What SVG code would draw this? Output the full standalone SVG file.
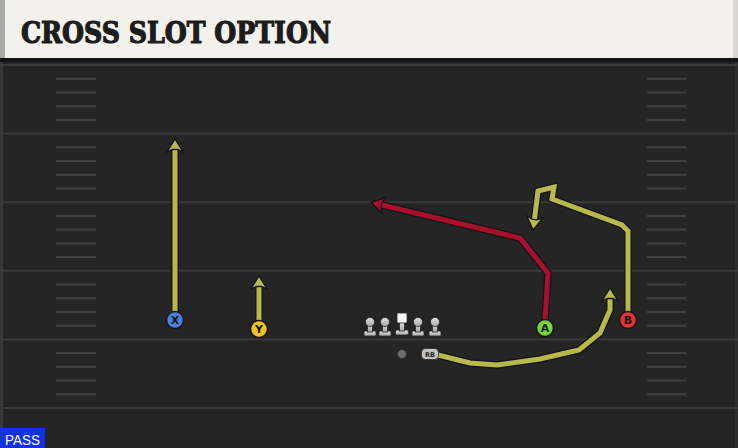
<svg xmlns="http://www.w3.org/2000/svg" xmlns:xlink="http://www.w3.org/1999/xlink" width="738" height="448" viewBox="0 0 738 448">
<style>
.yl{stroke:#3a3a3a;stroke-width:2}
.hs{stroke:#404040;stroke-width:2}
.ol{fill:none;stroke:#141414;stroke-width:7.5;stroke-linejoin:miter}
.ry{fill:none;stroke:#b9b94b;stroke-width:5;stroke-linejoin:miter}
.rr{fill:none;stroke:#a8102e;stroke-width:5;stroke-linejoin:miter}
.pc{stroke:#161616;stroke-width:1.5}
.pl{font-family:"DejaVu Sans","Liberation Sans",sans-serif;font-weight:bold;font-size:11px;fill:#151515;text-anchor:middle}
.lm{fill:url(#lg);stroke:#2a2a2a;stroke-width:0.8}
</style>
<defs>
<linearGradient id="lg" x1="0" y1="0" x2="0" y2="1">
<stop offset="0" stop-color="#e4e4e4"/>
<stop offset="1" stop-color="#a6a6a6"/>
</linearGradient>
<marker id="aY" markerUnits="userSpaceOnUse" viewBox="-9 -10 18 20" markerWidth="18" markerHeight="20" refX="0" refY="0" orient="auto">
<path d="M7,0 L-6,-8 L-3.5,-2.5 L-3.5,2.5 L-6,8 Z" fill="#b9b94b" stroke="#141414" stroke-width="1.3" stroke-linejoin="miter"/>
</marker>
<marker id="aR" markerUnits="userSpaceOnUse" viewBox="-9 -10 18 20" markerWidth="18" markerHeight="20" refX="0" refY="0" orient="auto">
<path d="M7,0 L-6,-8 L-3.5,-2.5 L-3.5,2.5 L-6,8 Z" fill="#a8102e" stroke="#141414" stroke-width="1.3" stroke-linejoin="miter"/>
</marker>
<g id="olm">
<rect x="-6" y="331" width="12" height="5" rx="1.5" class="lm"/>
<rect x="-2.5" y="322" width="5" height="10" class="lm"/>
<circle cx="0" cy="322" r="4.5" class="lm"/>
</g>
</defs>

<!-- field -->
<rect x="0" y="0" width="738" height="448" fill="#252525"/>
<rect x="0" y="58" width="738" height="4" fill="#141414"/>
<rect x="0" y="62" width="3" height="386" fill="#383838"/>
<rect x="735" y="62" width="3" height="386" fill="#2e2e2e"/>
<g id="yardlines">
<line class="yl" x1="0" y1="65" x2="738" y2="65"/>
<line class="yl" x1="0" y1="133.6" x2="738" y2="133.6"/>
<line class="yl" x1="0" y1="202.2" x2="738" y2="202.2"/>
<line class="yl" x1="0" y1="270.8" x2="738" y2="270.8"/>
<line class="yl" x1="0" y1="339.4" x2="738" y2="339.4"/>
<line class="yl" x1="0" y1="408" x2="738" y2="408"/>
</g>
<g id="hashes">
<path class="hs" d="M56,78.7H96M56,92.4H96M56,106.2H96M56,119.9H96M56,147.3H96M56,161H96M56,174.8H96M56,188.5H96M56,215.9H96M56,229.6H96M56,243.4H96M56,257.1H96M56,284.5H96M56,298.2H96M56,312H96M56,325.7H96M56,353.1H96M56,366.8H96M56,380.6H96M56,394.3H96"/>
<path class="hs" d="M647,78.7H686M647,92.4H686M647,106.2H686M647,119.9H686M647,147.3H686M647,161H686M647,174.8H686M647,188.5H686M647,215.9H686M647,229.6H686M647,243.4H686M647,257.1H686M647,284.5H686M647,298.2H686M647,312H686M647,325.7H686M647,353.1H686M647,366.8H686M647,380.6H686M647,394.3H686"/>
</g>

<!-- header -->
<g id="header">
<rect x="0" y="0" width="738" height="58" fill="#f3f1eb"/>
<rect x="0" y="0" width="5" height="58" fill="#a9a9a6"/>
<polygon points="733,0 738,0 738,58 733,58" fill="#d8d6d0"/>
<text x="21" y="43" font-family="'DejaVu Serif','Liberation Serif',serif" font-weight="900" font-size="29" fill="#1c1c1c" stroke="#1c1c1c" stroke-width="1.2" textLength="310" lengthAdjust="spacingAndGlyphs">CROSS SLOT OPTION</text>
</g>

<!-- routes -->
<g id="connectors">
<path class="ol" d="M175,312 L175,146"/>
<path class="ry" d="M175,312 L175,146" marker-end="url(#aY)"/>
<path class="ol" d="M259,321 L259,283"/>
<path class="ry" d="M259,321 L259,283" marker-end="url(#aY)"/>
<path class="ol" d="M545,320 L548,273 L520,238 L378,204"/>
<path class="rr" d="M545,320 L548,273 L520,238 L378,204" marker-end="url(#aR)"/>
<path class="ol" d="M628,312 L628,231 L622,225 L552,199 L554,187 L538,191 L534,223"/>
<path class="ry" d="M628,312 L628,231 L622,225 L552,199 L554,187 L538,191 L534,223" marker-end="url(#aY)"/>
<path class="ol" d="M438,355 L470,363 L497,365 L540,359 L579,350 L600,333 L610,310 L610,295"/>
<path class="ry" d="M438,355 L470,363 L497,365 L540,359 L579,350 L600,333 L610,310 L610,295" marker-end="url(#aY)"/>
</g>

<!-- players -->
<g id="X"><circle class="pc" cx="175" cy="320" r="8.5" fill="#4d7fe0"/><text class="pl" x="175" y="324">X</text></g>
<g id="Y"><circle class="pc" cx="259" cy="329" r="8.5" fill="#f3c21a"/><text class="pl" x="259" y="333">Y</text></g>
<g id="A"><circle class="pc" cx="545" cy="328" r="8.5" fill="#72d63e"/><text class="pl" x="545" y="332">A</text></g>
<g id="B"><circle class="pc" cx="628" cy="320" r="8.5" fill="#e4323d"/><text class="pl" x="628" y="324">B</text></g>
<g id="LT"><use xlink:href="#olm" x="370"/></g>
<g id="LG"><use xlink:href="#olm" x="385"/></g>
<g id="C">
<rect x="395.5" y="330" width="13" height="5" rx="1.5" class="lm"/>
<rect x="399.5" y="322" width="5" height="9" class="lm"/>
<rect x="397" y="313" width="10" height="10" fill="#f4f4f4" stroke="#2a2a2a" stroke-width="0.8"/>
</g>
<g id="RG"><use xlink:href="#olm" x="418"/></g>
<g id="RT"><use xlink:href="#olm" x="435"/></g>
<g id="QB"><circle cx="402" cy="354" r="4.5" fill="#6c6c6c" stroke="#2a2a2a" stroke-width="0.8"/></g>
<g id="RB"><rect x="421.5" y="348.5" width="17" height="11" rx="4" fill="#c2c2c2" stroke="#2a2a2a" stroke-width="0.8"/><text x="430" y="356.5" font-family="'DejaVu Sans','Liberation Sans',sans-serif" font-weight="bold" font-size="6.5" fill="#222" text-anchor="middle">RB</text></g>

<!-- pass tag -->
<g id="pass">
<rect x="0" y="428" width="45" height="20" fill="#1232e4"/>
<text x="5" y="445" font-family="'Liberation Sans',sans-serif" font-size="15" fill="#ffffff" textLength="35" lengthAdjust="spacingAndGlyphs">PASS</text>
</g>
</svg>
